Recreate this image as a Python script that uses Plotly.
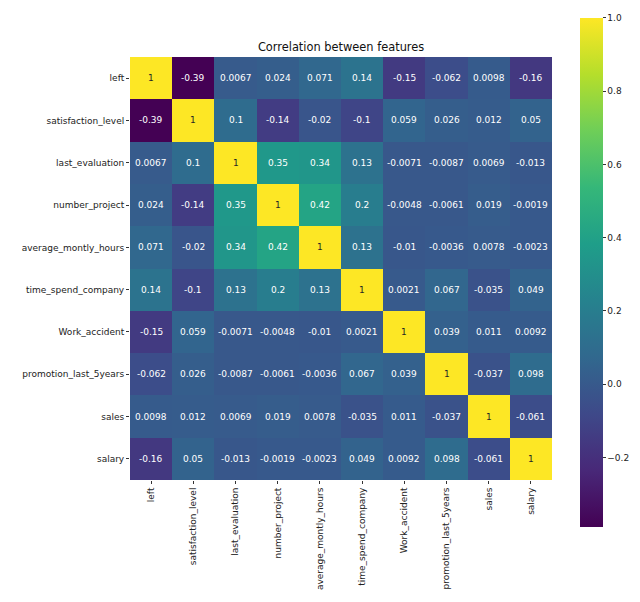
import plotly.graph_objects as go

features = ['left', 'satisfaction_level', 'last_evaluation', 'number_project',
            'average_montly_hours', 'time_spend_company', 'Work_accident',
            'promotion_last_5years', 'sales', 'salary']

# correlation rows, same order as features
r_left = [1, -0.39, 0.0067, 0.024, 0.071, 0.14, -0.15, -0.062, 0.0098, -0.16]
r_satisfaction = [-0.39, 1, 0.1, -0.14, -0.02, -0.1, 0.059, 0.026, 0.012, 0.05]
r_evaluation = [0.0067, 0.1, 1, 0.35, 0.34, 0.13, -0.0071, -0.0087, 0.0069, -0.013]
r_project = [0.024, -0.14, 0.35, 1, 0.42, 0.2, -0.0048, -0.0061, 0.019, -0.0019]
r_hours = [0.071, -0.02, 0.34, 0.42, 1, 0.13, -0.01, -0.0036, 0.0078, -0.0023]
r_company = [0.14, -0.1, 0.13, 0.2, 0.13, 1, 0.0021, 0.067, -0.035, 0.049]
r_accident = [-0.15, 0.059, -0.0071, -0.0048, -0.01, 0.0021, 1, 0.039, 0.011, 0.0092]
r_promotion = [-0.062, 0.026, -0.0087, -0.0061, -0.0036, 0.067, 0.039, 1, -0.037, 0.098]
r_sales = [0.0098, 0.012, 0.0069, 0.019, 0.0078, -0.035, 0.011, -0.037, 1, -0.061]
r_salary = [-0.16, 0.05, -0.013, -0.0019, -0.0023, 0.049, 0.0092, 0.098, -0.061, 1]

corr = [r_left, r_satisfaction, r_evaluation, r_project, r_hours,
        r_company, r_accident, r_promotion, r_sales, r_salary]

cbar_ticks = [-0.2, 0.0, 0.2, 0.4, 0.6, 0.8, 1.0]

labels = [[format(v, '.2g') for v in row] for row in corr]
# dark text on the bright (yellow) cells, white elsewhere
colors = [['#262626' if v > 0.7 else 'white' for v in row] for row in corr]

fig = go.Figure()
fig.add_trace(go.Heatmap(
    z=corr, x=features, y=features,
    colorscale='Viridis', zmin=-0.39, zmax=1,
    showscale=True,
    colorbar=dict(
        # top kept a few px below the page edge, else the 1.0 label is dropped
        x=1.066, xanchor='left', y=1.0922, yanchor='top',
        xpad=0, ypad=0,
        lenmode='pixels', len=509, thickness=23,
        outlinewidth=0, tickvals=cbar_ticks, tickformat='.1f',
        ticks='outside', ticklen=3, tickcolor='#333',
        tickfont=dict(size=9, color='#222'),
    ),
    hoverinfo='skip',
))

# cell annotations
for i, row in enumerate(corr):
    for j, v in enumerate(row):
        fig.add_annotation(x=features[j], y=features[i], text=labels[i][j],
                           showarrow=False,
                           font=dict(size=9, color=colors[i][j]))

# page body adds 8px, so the figure is 8px smaller than the window
fig.update_layout(
    width=632, height=594,
    margin=dict(l=122, r=88, t=49, b=122, autoexpand=False),
    paper_bgcolor='white', plot_bgcolor='white',
    font=dict(family='DejaVu Sans', size=9, color='#222'),
    title=dict(text='Correlation between features', x=0.527, xanchor='center',
               y=0.934, yanchor='middle', font=dict(size=11.4, color='#111')),
)
fig.update_xaxes(tickangle=-90, ticks='outside', ticklen=3, tickcolor='#333',
                 showgrid=False, zeroline=False, automargin=False)
fig.update_yaxes(autorange='reversed', ticks='outside', ticklen=3, tickcolor='#333',
                 showgrid=False, zeroline=False, automargin=False)

fig.write_html("out.html")
